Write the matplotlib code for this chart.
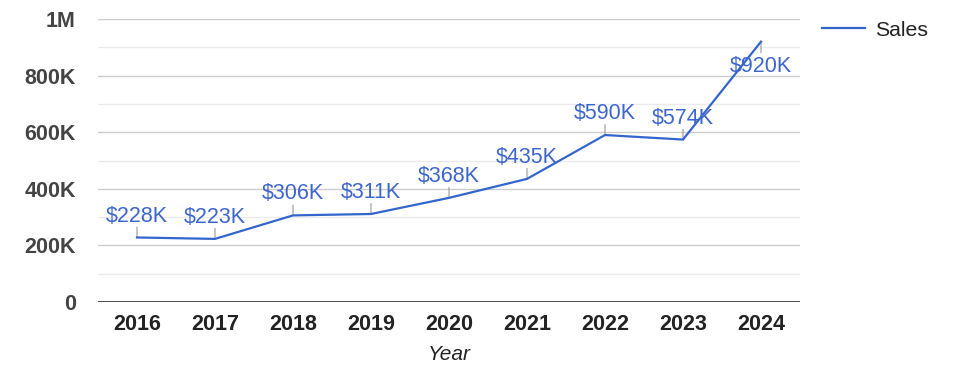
import matplotlib
matplotlib.use("Agg")
import matplotlib.pyplot as plt
from matplotlib.ticker import FixedLocator, FuncFormatter

years = ["2016", "2017", "2018", "2019", "2020", "2021", "2022", "2023", "2024"]
sales = [228000, 223000, 306000, 311000, 368000, 435000, 590000, 574000, 920000]
labels = ["$228K", "$223K", "$306K", "$311K", "$368K", "$435K", "$590K", "$574K", "$920K"]

plt.rcParams['font.family'] = ['Liberation Sans', 'DejaVu Sans']

fig = plt.figure(figsize=(9.75, 3.78), dpi=100)
ax = fig.add_axes([98/975, 1-302/378, 702/975, 283/378])

x = list(range(len(years)))
line, = ax.plot(x, sales, color='#3366cc', lw=1.6, zorder=3, label='Sales')

ax.set_xlim(-0.5, len(years) - 0.5)
ax.set_ylim(0, 1000000)

ax.yaxis.set_major_locator(FixedLocator([0, 200000, 400000, 600000, 800000, 1000000]))
ax.yaxis.set_minor_locator(FixedLocator([100000, 300000, 500000, 700000, 900000]))

def fmt(v, pos):
    if v == 0:
        return "0"
    if v >= 1000000:
        return f"{v/1000000:g}M"
    return f"{v/1000:g}K"
ax.yaxis.set_major_formatter(FuncFormatter(fmt))

ax.grid(axis='y', which='major', color='#cccccc', lw=1, zorder=0)
ax.grid(axis='y', which='minor', color='#ebebeb', lw=1, zorder=0)
ax.axhline(0, color='#333333', lw=1.2, zorder=2)

for s in ax.spines.values():
    s.set_visible(False)

ax.set_xticks(x)
ax.set_xticklabels(years)
ax.tick_params(axis='both', which='both', length=0)
ax.tick_params(axis='y', pad=16, labelsize=15.5, labelcolor='#444444')
ax.tick_params(axis='x', pad=9, labelsize=15.5, labelcolor='#222222')
for t in ax.get_yticklabels() + ax.get_xticklabels():
    t.set_fontweight('bold')

ax.set_xlabel("Year", fontsize=15, style='italic', color='#222222', labelpad=7)

for xi, yi, lab in zip(x, sales, labels):
    if yi > 850000:
        lead = -8
        toff = -21.6
    else:
        lead = 7.5
        toff = 11.5
    ax.annotate("", xy=(xi, yi), xytext=(0, lead), textcoords='offset points',
                arrowprops=dict(arrowstyle='-', color='#999999', lw=0.8,
                                shrinkA=0, shrinkB=0), zorder=2)
    ax.annotate(lab, xy=(xi, yi), xytext=(0, toff), textcoords='offset points',
                ha='center', va='baseline', fontsize=15.5, color='#3d66cc', zorder=4)

leg = fig.legend(handles=[line], labels=['Sales'], loc='center left',
                 bbox_to_anchor=(822/975, 1-30/378), frameon=False,
                 fontsize=15.3, handlelength=2.03, handletextpad=0.47,
                 borderaxespad=0, borderpad=0)
for t in leg.get_texts():
    t.set_color('#222222')

fig.savefig("out.png", dpi=100)
